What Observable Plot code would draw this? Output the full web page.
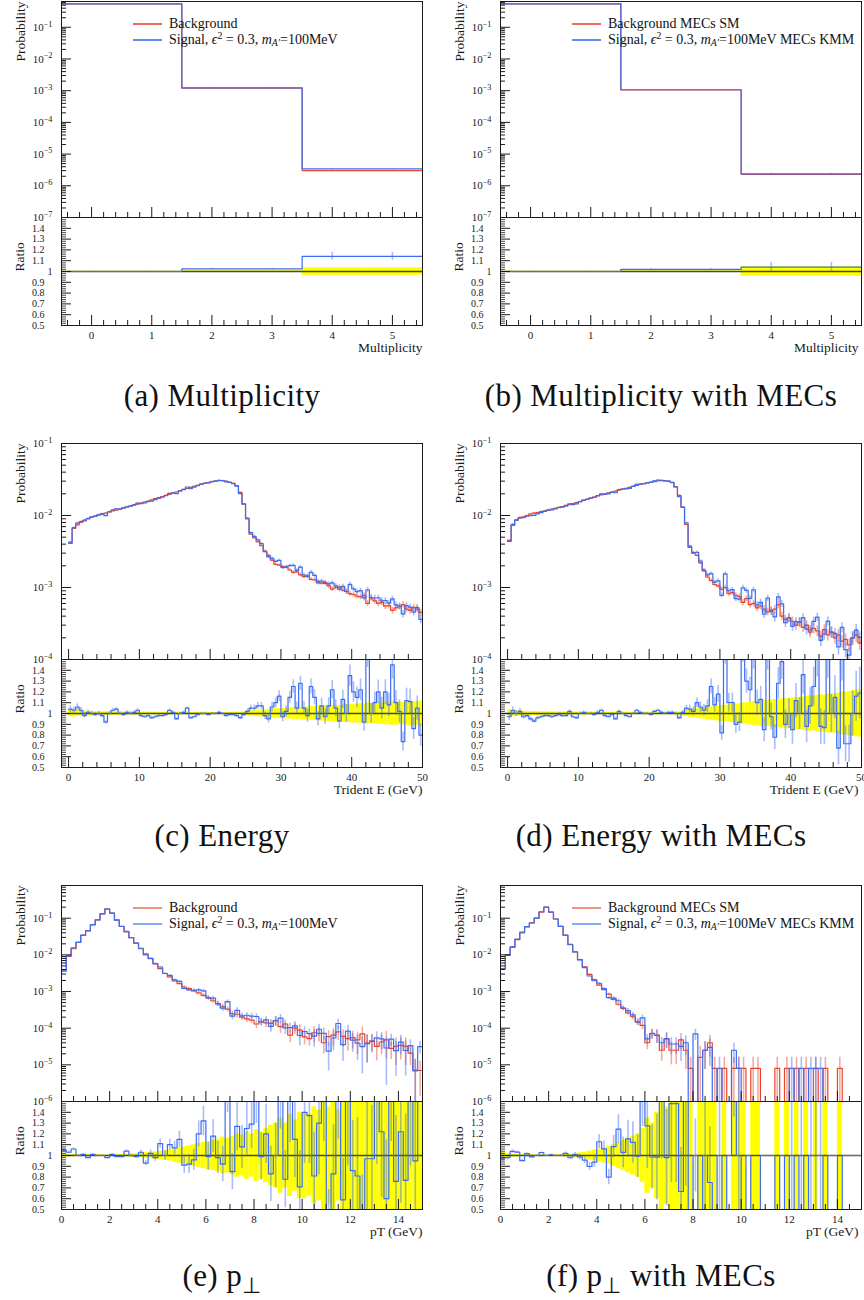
<!DOCTYPE html>
<html>
<head>
<meta charset="utf-8">
<script src="https://cdn.jsdelivr.net/npm/d3@7"></script>
<script src="https://cdn.jsdelivr.net/npm/@observablehq/plot@0.6"></script>
<style>
html, body { margin: 0; padding: 0; background: #fff; overflow: hidden; }
#root { position: relative; width: 864px; height: 1300px; overflow: hidden; background: #fff; }
#root svg.plotsvg { position: absolute; overflow: visible; }
.caption { position: absolute; transform: translate(-50%, -50%); font-family: "Liberation Serif", serif; font-size: 31px; letter-spacing: 0.4px; color: #111; white-space: nowrap; line-height: 1; }
.caption .sub { font-size: 0.7em; position: relative; top: 0.3em; }
.legend { position: absolute; font-family: "Liberation Serif", serif; font-size: 14px; color: #111; white-space: nowrap; }
.legend .row { display: flex; align-items: center; height: 16px; }
.legend svg.swatch { display: block; width: 29px; height: 4px; margin-right: 7px; flex: 0 0 29px; }
.legend .sup { font-size: 0.7em; position: relative; top: -0.5em; }
.legend .sub { font-size: 0.7em; position: relative; top: 0.3em; }
</style>
</head>
<body>
<div id="root"></div>
<script>
// ================= DATA =================
// Multiplicity (unit bins from -0.5 to 5.5)
const multEdges = [-0.5, 0.5, 1.5, 2.5, 3.5, 4.5, 5.5];
const multBg     = [0.55, 0.55, 1.2e-3, 1.2e-3, 3.0e-6, 3.0e-6];
const multRatio  = [1.0, 1.0, 1.025, 1.025, 1.14, 1.14];
const multBand   = [0.002, 0.002, 0.006, 0.006, 0.035, 0.035];
const multMecBg    = [0.55, 0.55, 1.05e-3, 1.05e-3, 2.3e-6, 2.3e-6];
const multMecRatio = [1.0, 1.0, 1.02, 1.02, 1.04, 1.04];
const multMecBand  = [0.002, 0.002, 0.006, 0.006, 0.045, 0.045];

// Trident energy: 100 bins of 0.5 GeV
const energyBinWidth = 0.5, energyBinCount = 100;
const energyBg = [
 4.1e-3, 6.6e-3, 7.4e-3, 8.0e-3, 8.6e-3, 9.0e-3, 9.5e-3, 9.8e-3, 1.02e-2, 1.06e-2,
 1.08e-2, 1.12e-2, 1.16e-2, 1.19e-2, 1.23e-2, 1.28e-2, 1.31e-2, 1.35e-2, 1.39e-2, 1.44e-2,
 1.49e-2, 1.54e-2, 1.59e-2, 1.65e-2, 1.71e-2, 1.77e-2, 1.83e-2, 1.90e-2, 1.97e-2, 2.04e-2,
 2.12e-2, 2.20e-2, 2.28e-2, 2.37e-2, 2.46e-2, 2.55e-2, 2.63e-2, 2.72e-2, 2.80e-2, 2.87e-2,
 2.96e-2, 3.0e-2, 3.04e-2, 3.05e-2, 3.0e-2, 2.9e-2, 2.8e-2, 2.6e-2, 2.1e-2, 1.45e-2,
 9.0e-3, 5.5e-3, 4.9e-3, 4.3e-3, 3.8e-3, 3.2e-3, 2.8e-3, 2.4e-3, 2.1e-3, 2.05e-3,
 1.95e-3, 1.9e-3, 1.75e-3, 1.62e-3, 1.65e-3, 1.5e-3, 1.42e-3, 1.45e-3, 1.3e-3, 1.28e-3,
 1.22e-3, 1.15e-3, 1.18e-3, 1.05e-3, 9.5e-4, 1.0e-3, 1.02e-3, 9.2e-4, 8.8e-4, 8.2e-4,
 8.0e-4, 7.6e-4, 7.4e-4, 7.8e-4, 6.0e-4, 7.2e-4, 6.5e-4, 6.0e-4, 6.2e-4, 5.5e-4,
 5.6e-4, 4.8e-4, 5.2e-4, 5.4e-4, 5.8e-4, 5.0e-4, 4.8e-4, 5.3e-4, 5.0e-4, 4.5e-4];
const energyRatio = [
 1.04, 1.03, 1.06, 1.03, 0.98, 1.01, 1.0, 0.99, 1.0, 0.98,
 0.92, 1.0, 1.03, 1.04, 1.0, 0.99, 1.01, 1.0, 1.01, 1.03,
 0.98, 0.97, 0.98, 0.96, 0.97, 0.98, 0.98, 0.99, 1.03, 1.01,
 0.95, 1.0, 1.01, 1.05, 0.96, 0.97, 0.99, 1.0, 1.0, 0.99,
 1.0, 1.0, 1.01, 1.0, 0.98, 0.99, 0.99, 0.98, 0.96, 0.99,
 1.02, 1.05, 1.05, 1.07, 1.07, 0.98, 0.95, 1.06, 1.1, 1.16,
 0.97, 1.02, 1.15, 1.25, 1.05, 1.28, 1.05, 0.98, 1.25, 1.15,
 0.95, 1.07, 0.97, 1.07, 1.22, 1.05, 0.93, 1.13, 1.0, 1.35,
 1.2, 1.15, 1.22, 0.92, 1.55, 1.0, 1.1, 1.2, 1.05, 1.2,
 1.08, 1.45, 1.1, 1.02, 0.74, 1.12, 1.11, 0.86, 1.05, 0.8];
const energyBand = [
 0.03, 0.03, 0.028, 0.025, 0.022, 0.02, 0.02, 0.018, 0.018, 0.017,
 0.017, 0.016, 0.016, 0.016, 0.015, 0.015, 0.015, 0.015, 0.014, 0.014,
 0.014, 0.014, 0.013, 0.013, 0.013, 0.013, 0.012, 0.012, 0.012, 0.012,
 0.012, 0.012, 0.011, 0.011, 0.011, 0.011, 0.011, 0.011, 0.011, 0.01,
 0.01, 0.01, 0.01, 0.01, 0.01, 0.011, 0.011, 0.012, 0.013, 0.016,
 0.02, 0.026, 0.028, 0.03, 0.032, 0.035, 0.038, 0.042, 0.045, 0.046,
 0.048, 0.05, 0.052, 0.055, 0.055, 0.058, 0.06, 0.06, 0.063, 0.065,
 0.067, 0.07, 0.07, 0.073, 0.076, 0.075, 0.075, 0.08, 0.082, 0.085,
 0.087, 0.09, 0.09, 0.088, 0.1, 0.092, 0.095, 0.1, 0.098, 0.104,
 0.103, 0.11, 0.108, 0.105, 0.102, 0.108, 0.112, 0.108, 0.11, 0.115];

const energyMecBg = [
 4.5e-3, 7.3e-3, 8.6e-3, 9.2e-3, 9.6e-3, 1.0e-2, 1.05e-2, 1.08e-2, 1.1e-2, 1.13e-2,
 1.16e-2, 1.2e-2, 1.23e-2, 1.26e-2, 1.3e-2, 1.33e-2, 1.38e-2, 1.42e-2, 1.46e-2, 1.51e-2,
 1.56e-2, 1.62e-2, 1.68e-2, 1.74e-2, 1.8e-2, 1.87e-2, 1.94e-2, 2.0e-2, 2.06e-2, 2.12e-2,
 2.18e-2, 2.25e-2, 2.32e-2, 2.39e-2, 2.46e-2, 2.54e-2, 2.62e-2, 2.7e-2, 2.77e-2, 2.84e-2,
 2.9e-2, 2.96e-2, 3.02e-2, 3.05e-2, 3.03e-2, 2.98e-2, 2.85e-2, 2.5e-2, 1.9e-2, 1.3e-2,
 7.5e-3, 3.6e-3, 3.0e-3, 2.8e-3, 2.2e-3, 1.7e-3, 1.4e-3, 1.25e-3, 1.1e-3, 1.05e-3,
 9.5e-4, 1.0e-3, 8.2e-4, 8.5e-4, 7.8e-4, 7.5e-4, 6.2e-4, 7.0e-4, 5.8e-4, 6.0e-4,
 5.2e-4, 5.5e-4, 5.0e-4, 4.6e-4, 4.8e-4, 5.0e-4, 5.8e-4, 4.0e-4, 3.6e-4, 3.8e-4,
 3.4e-4, 3.0e-4, 3.3e-4, 2.8e-4, 3.0e-4, 2.4e-4, 2.7e-4, 2.5e-4, 2.1e-4, 2.6e-4,
 2.2e-4, 2.4e-4, 2.0e-4, 2.2e-4, 1.8e-4, 1.9e-4, 1.6e-4, 2.0e-4, 2.2e-4, 1.7e-4];
const energyMecRatio = [
 0.97, 1.03, 1.0, 1.02, 0.97, 0.98, 0.95, 0.93, 0.96, 0.97,
 0.98, 0.98, 0.97, 0.98, 0.99, 0.98, 0.98, 1.02, 0.97, 0.96,
 1.0, 1.01, 1.0, 1.0, 0.99, 1.01, 1.03, 0.98, 0.97, 0.99,
 0.95, 1.02, 1.0, 0.98, 0.97, 1.0, 1.03, 1.01, 1.0, 1.0,
 0.99, 1.02, 1.03, 1.01, 1.0, 1.01, 1.01, 1.0, 0.96, 1.01,
 1.05, 1.04, 1.02, 1.1, 1.06, 1.03, 1.07, 1.25, 1.08, 1.18,
 0.82, 1.55, 1.1, 1.1, 0.9, 0.92, 1.6, 1.3, 1.22, 1.55,
 1.1, 1.13, 0.85, 1.55, 0.97, 0.78, 1.28, 1.48, 0.9, 1.0,
 0.85, 1.12, 1.0, 1.36, 0.88, 1.07, 1.25, 1.55, 0.88, 0.87,
 1.55, 1.0, 1.15, 0.68, 1.55, 0.72, 0.72, 1.0, 1.16, 1.19];
const energyMecBand = [
 0.035, 0.03, 0.028, 0.025, 0.022, 0.02, 0.02, 0.018, 0.018, 0.017,
 0.017, 0.016, 0.016, 0.016, 0.015, 0.015, 0.015, 0.015, 0.014, 0.014,
 0.014, 0.014, 0.013, 0.013, 0.013, 0.013, 0.012, 0.012, 0.012, 0.012,
 0.012, 0.012, 0.011, 0.011, 0.011, 0.011, 0.011, 0.011, 0.011, 0.011,
 0.011, 0.011, 0.011, 0.011, 0.011, 0.012, 0.012, 0.013, 0.015, 0.02,
 0.026, 0.035, 0.04, 0.042, 0.048, 0.052, 0.058, 0.062, 0.065, 0.07,
 0.075, 0.075, 0.082, 0.085, 0.088, 0.09, 0.1, 0.098, 0.105, 0.11,
 0.112, 0.115, 0.12, 0.12, 0.125, 0.13, 0.128, 0.135, 0.14, 0.14,
 0.145, 0.15, 0.148, 0.155, 0.16, 0.165, 0.16, 0.17, 0.175, 0.17,
 0.18, 0.178, 0.185, 0.19, 0.2, 0.195, 0.205, 0.21, 0.215, 0.22];

// Transverse momentum: 75 bins of 0.2 GeV
const ptBinWidth = 0.2, ptBinCount = 75;
const ptBg = [
 3.6e-3, 9.1e-3, 1.47e-2, 2.2e-2, 3.4e-2, 4.6e-2, 6.6e-2, 9.0e-2, 0.132, 0.18,
 0.137, 9.0e-2, 6.0e-2, 4.2e-2, 2.94e-2, 2.1e-2, 1.47e-2, 1.07e-2, 7.9e-3, 5.8e-3,
 4.2e-3, 3.1e-3, 2.5e-3, 1.95e-3, 1.65e-3, 1.33e-3, 1.2e-3, 1.08e-3, 9.2e-4, 7.9e-4,
 6.8e-4, 5.6e-4, 4.7e-4, 3.8e-4, 3.3e-4, 2.5e-4, 2.4e-4, 2.0e-4, 1.8e-4, 1.66e-4,
 1.3e-4, 1.5e-4, 1.4e-4, 1.35e-4, 1.6e-4, 1.1e-4, 1.3e-4, 6.5e-5, 1.0e-4, 8.9e-5,
 5.8e-5, 5.2e-5, 7.5e-5, 7.2e-5, 4.0e-5, 5.9e-5, 6.5e-5, 7.9e-5, 6.0e-5, 5.2e-5,
 5.5e-5, 4.8e-5, 7.0e-5, 3.9e-5, 4.5e-5, 3.2e-5, 4.2e-5, 4.8e-5, 2.8e-5, 3.2e-5,
 3.4e-5, 3.2e-5, 2.1e-5, 7.2e-6, 7.0e-6];
const ptRatio = [
 1.05, 1.03, 1.06, 1.0, 1.01, 0.98, 1.01, 1.0, 1.0, 0.98,
 1.01, 0.99, 0.99, 1.04, 1.0, 0.99, 1.03, 0.93, 1.02, 0.98,
 1.11, 1.0, 1.1, 1.07, 1.15, 0.91, 0.92, 0.96, 1.2, 1.32,
 0.99, 1.18, 0.98, 0.92, 1.6, 0.85, 1.27, 1.08, 1.25, 1.29,
 1.6, 0.99, 1.2, 0.83, 1.0, 1.7, 0.78, 1.6, 1.15, 0.71,
 1.4, 1.37, 0.81, 1.3, 1.8, 0.4, 0.83, 1.7, 0.59, 1.6,
 0.86, 0.81, 0.45, 0.97, 0.97, 1.7, 1.22, 0.6, 1.8, 0.76,
 1.22, 0.77, 1.6, 0.95, 4.5];
const ptBand = [
 0.015, 0.012, 0.01, 0.01, 0.008, 0.008, 0.007, 0.007, 0.006, 0.006,
 0.007, 0.008, 0.01, 0.012, 0.014, 0.017, 0.02, 0.025, 0.03, 0.035,
 0.04, 0.045, 0.05, 0.06, 0.07, 0.08, 0.09, 0.1, 0.11, 0.12,
 0.13, 0.14, 0.15, 0.17, 0.16, 0.18, 0.2, 0.19, 0.22, 0.2,
 0.24, 0.22, 0.25, 0.28, 0.3, 0.35, 0.3, 0.38, 0.33, 0.4,
 0.4, 0.38, 0.45, 0.42, 0.5, 0.45, 0.5, 0.42, 0.5, 0.55,
 0.5, 0.6, 0.55, 0.7, 0.5, 0.6, 0.55, 0.7, 0.5, 0.7,
 0.6, 0.7, 0.55, 1.0, 0.8];

const ptMecBg = [
 4.2e-3, 1.0e-2, 1.6e-2, 2.6e-2, 4.2e-2, 5.8e-2, 7.5e-2, 0.1, 0.146, 0.2,
 0.146, 9.5e-2, 6.0e-2, 3.4e-2, 1.93e-2, 1.2e-2, 7.4e-3, 4.7e-3, 2.95e-3, 2.1e-3,
 1.49e-3, 1.13e-3, 8.5e-4, 6.1e-4, 4.5e-4, 3.45e-4, 2.6e-4, 2.05e-4, 1.49e-4, 1.2e-4,
 4.0e-5, 7.2e-5, 6.5e-5, 2.5e-5, 5.2e-5, 2.5e-5, 2.5e-5, 4.8e-5, 2.5e-5, 8e-6,
 0, 1.6e-5, 2.5e-5, 4.0e-5, 8e-6, 0, 8e-6, 0, 8e-6, 8e-6,
 8e-6, 0, 8e-6, 8e-6, 0, 0, 0, 8e-6, 0, 8e-6,
 0, 8e-6, 0, 8e-6, 0, 8e-6, 0, 8e-6, 0, 0,
 8e-6, 0, 0, 0, 0];
const ptMecSig = [
 4.1e-3, 9.8e-3, 1.66e-2, 2.68e-2, 4.0e-2, 5.9e-2, 7.4e-2, 0.1, 0.15, 0.2,
 0.147, 9.5e-2, 6.0e-2, 3.47e-2, 1.89e-2, 1.21e-2, 7.3e-3, 4.5e-3, 2.65e-3, 1.97e-3,
 1.68e-3, 1.2e-3, 6.8e-4, 6.6e-4, 5.6e-4, 3.55e-4, 3.0e-4, 2.3e-4, 1.48e-4, 1.9e-4,
 5.1e-5, 7.1e-5, 6.4e-5, 4.0e-5, 5.1e-5, 3.7e-5, 3.7e-5, 3.2e-5, 4.0e-5, 0,
 7e-5, 0, 2.5e-5, 3.0e-5, 0, 8e-6, 0, 0, 2.5e-5, 8e-6,
 0, 0, 0, 0, 0, 0, 0, 0, 0, 0,
 8e-6, 0, 8e-6, 0, 8e-6, 8e-6, 8e-6, 0, 0, 0,
 0, 0, 0, 0, 0];
const ptMecBand = [
 0.03, 0.02, 0.015, 0.012, 0.01, 0.008, 0.007, 0.006, 0.005, 0.005,
 0.006, 0.007, 0.009, 0.012, 0.015, 0.02, 0.025, 0.03, 0.04, 0.05,
 0.06, 0.07, 0.08, 0.1, 0.12, 0.14, 0.16, 0.18, 0.2, 0.25,
 0.35, 0.3, 0.4, 0.5, 0.45, 0.6, 0.6, 0.5, 0.7, 1,
 0, 1, 0.7, 0.6, 1, 0, 1, 0, 1, 1,
 1, 0, 1, 1, 0, 0, 0, 1, 0, 1,
 0, 1, 0, 1, 0, 1, 0, 1, 0, 0,
 1, 0, 0, 0, 0];
const ptMecOneEvent = 8e-6; // weight of a single event

// Tick labels
const multTicks = [0, 1, 2, 3, 4, 5];
const energyTicks = [0, 10, 20, 30, 40, 50];
const ptTicks = [0, 2, 4, 6, 8, 10, 12, 14];
const ratioTicks = [0.5, 0.6, 0.7, 0.8, 0.9, 1, 1.1, 1.2, 1.3, 1.4];

const legendBg = "Background", legendBgMec = "Background MECs SM";
const legendSig = 'Signal, <i>ϵ</i><span class="sup">2</span> = 0.3, <i>m</i><span class="sub"><i>A′</i></span>=100MeV';
const legendSigMec = legendSig + " MECs KMM";

// ================= STYLE / LAYOUT =================
const RED = "#e8452c", BLUE = "#3d6cf2", YELLOW = "#ffff00", INK = "#1a1a1a";
const FONT = "'Liberation Serif', 'Times New Roman', serif";
const COL_LEFT = [0, 439];
const MAIN_TOP = [1, 443, 885];
const MAIN_H = 216, RATIO_H = 108;
const CAPTION_X = [222, 661], CAPTION_Y = [395, 835, 1275];
const LEGEND_X = [133, 572];
const XLABEL_DX = [0, -3];

const edgesOf = (w, n) => d3.range(n + 1).map(i => +(i * w).toFixed(4));
const times = (a, b) => a.map((v, i) => v * b[i]);

function makeBins(edges, bg, sig, band, oneEvent) {
  return bg.map((b, i) => {
    const s = sig[i];
    const ratio = b > 0 ? s / b : 1;
    const sigRel = s > 0 ? (b > 0 ? band[i] * Math.sqrt(b / s) : Math.sqrt(oneEvent / s)) : 0;
    return {x0: edges[i], x1: edges[i + 1], xc: (edges[i] + edges[i + 1]) / 2,
      bg: b, sig: s, band: band[i], bgErr: b * band[i], sigErr: s * sigRel,
      ratio, ratioErr: ratio * sigRel};
  });
}

const panels = [
  {col: 0, row: 0, caption: "(a) Multiplicity", bins: makeBins(multEdges, multBg, times(multBg, multRatio), multBand, 1),
   xDomain: [-0.5, 5.5], yDomain: [1e-7, 0.65], xTicks: multTicks, xMinorStep: 0.2, xLabel: "Multiplicity", legend: [legendBg, legendSig], legendOpacity: 1},
  {col: 1, row: 0, caption: "(b) Multiplicity with MECs", bins: makeBins(multEdges, multMecBg, times(multMecBg, multMecRatio), multMecBand, 1),
   xDomain: [-0.5, 5.5], yDomain: [1e-7, 0.65], xTicks: multTicks, xMinorStep: 0.2, xLabel: "Multiplicity", legend: [legendBgMec, legendSigMec], legendOpacity: 1},
  {col: 0, row: 1, caption: "(c) Energy", bins: makeBins(edgesOf(energyBinWidth, energyBinCount), energyBg, times(energyBg, energyRatio), energyBand, 1),
   xDomain: [-1, 50], yDomain: [1e-4, 1e-1], xTicks: energyTicks, xMinorStep: 2, xLabel: "Trident E (GeV)"},
  {col: 1, row: 1, caption: "(d) Energy with MECs", bins: makeBins(edgesOf(energyBinWidth, energyBinCount), energyMecBg, times(energyMecBg, energyMecRatio), energyMecBand, 1),
   xDomain: [-1, 50], yDomain: [1e-4, 1e-1], xTicks: energyTicks, xMinorStep: 2, xLabel: "Trident E (GeV)"},
  {col: 0, row: 2, caption: '(e) p<span class="sub">⊥</span>', bins: makeBins(edgesOf(ptBinWidth, ptBinCount), ptBg, times(ptBg, ptRatio), ptBand, 1),
   xDomain: [0, 15], yDomain: [1e-6, 0.78], xTicks: ptTicks, xMinorStep: 0.5, xLabel: "pT (GeV)", legend: [legendBg, legendSig], legendOpacity: 0.75},
  {col: 1, row: 2, caption: '(f) p<span class="sub">⊥</span> with MECs', bins: makeBins(edgesOf(ptBinWidth, ptBinCount), ptMecBg, ptMecSig, ptMecBand, ptMecOneEvent),
   xDomain: [0, 15], yDomain: [1e-6, 0.78], xTicks: ptTicks, xMinorStep: 0.5, xLabel: "pT (GeV)", legend: [legendBgMec, legendSigMec], legendOpacity: 0.75}
];

// ================= HELPERS =================
function minorTicks([d0, d1], step, majors) {
  const out = [];
  for (let k = Math.ceil(d0 / step - 1e-9); k * step <= d1 + 1e-9; k++) {
    const v = +(k * step).toFixed(6);
    if (v > d0 && v < d1 && !majors.some(m => Math.abs(m - v) < 1e-6)) out.push(v);
  }
  return out;
}
function logTicks([lo, hi]) {
  const major = [], minor = [];
  for (let e = Math.floor(Math.log10(lo)); e <= Math.ceil(Math.log10(hi)); e++) {
    const p = Math.pow(10, e);
    if (p >= lo * 0.999 && p <= hi * 1.001) major.push(p);
    for (let m = 2; m < 10; m++) { const v = m * p; if (v > lo && v < hi) minor.push(v); }
  }
  return {major, minor};
}
function stepData(bins, key, f) {
  const pts = bins.map(b => ({x: b.x0, y: f(b[key])}));
  const last = bins[bins.length - 1];
  pts.push({x: last.x1, y: f(last[key])});
  return pts;
}
const lf = v => (v > 0 ? v : 1e-12);
const styleObj = {background: "transparent", overflow: "visible", fontFamily: FONT, fontSize: "11px", color: INK};

function mainPlot(p) {
  const bins = p.bins;
  const yt = logTicks(p.yDomain);
  return Plot.plot({
    width: 430, height: MAIN_H + 20,
    marginTop: 10, marginBottom: 10, marginLeft: 61, marginRight: 8,
    x: {domain: p.xDomain},
    y: {type: "log", domain: p.yDomain},
    style: styleObj,
    marks: [
      Plot.ruleX(bins.filter(b => b.bgErr > 0), {x: "xc", y1: b => lf(b.bg - b.bgErr), y2: b => b.bg + b.bgErr, stroke: RED, strokeOpacity: 0.45, strokeWidth: 1.6, clip: true}),
      Plot.ruleX(bins.filter(b => b.sigErr > 0), {x: "xc", y1: b => lf(b.sig - b.sigErr), y2: b => b.sig + b.sigErr, stroke: BLUE, strokeOpacity: 0.45, strokeWidth: 1.6, clip: true}),
      Plot.line(stepData(bins, "bg", lf), {x: "x", y: "y", curve: "step-after", stroke: RED, strokeWidth: 1.2, clip: true}),
      Plot.line(stepData(bins, "sig", lf), {x: "x", y: "y", curve: "step-after", stroke: BLUE, strokeWidth: 1.2, clip: true}),
      Plot.axisX(minorTicks(p.xDomain, p.xMinorStep, p.xTicks), {anchor: "bottom", tickSize: -5, fill: "none", label: null, stroke: INK}),
      Plot.axisX(p.xTicks, {anchor: "bottom", tickSize: -10, fill: "none", label: null, stroke: INK}),
      Plot.axisY(yt.minor, {anchor: "left", tickSize: -5, fill: "none", label: null, stroke: INK}),
      Plot.axisY(yt.major, {anchor: "left", tickSize: -10, fill: "none", label: null, stroke: INK}),
      Plot.axisY(yt.major, {anchor: "left", tickSize: 0, tickPadding: 9, tickFormat: d => "10^" + Math.round(Math.log10(d)), label: null, fontSize: 11, fill: INK}),
      Plot.frame({stroke: INK}),
      Plot.text(["Probability"], {frameAnchor: "top-left", text: d => d, rotate: -90, textAnchor: "end", dx: -46, fontSize: 13.5, fill: INK})
    ]
  });
}

function ratioPlot(p) {
  const bins = p.bins;
  return Plot.plot({
    width: 430, height: RATIO_H + 55,
    marginTop: 10, marginBottom: 45, marginLeft: 61, marginRight: 8,
    x: {domain: p.xDomain},
    y: {domain: [0.5, 1.5]},
    style: styleObj,
    marks: [
      Plot.rect(bins.filter(b => b.band > 0), {x1: "x0", x2: "x1", y1: b => 1 - b.band, y2: b => 1 + b.band, fill: YELLOW, clip: true}),
      Plot.ruleY([1], {stroke: INK, strokeOpacity: 0.8, strokeWidth: 1.3}),
      Plot.ruleX(bins.filter(b => b.ratioErr > 0), {x: "xc", y1: b => b.ratio - b.ratioErr, y2: b => b.ratio + b.ratioErr, stroke: BLUE, strokeOpacity: 0.45, strokeWidth: 1.6, clip: true}),
      Plot.line(stepData(bins, "ratio", v => v), {x: "x", y: "y", curve: "step-after", stroke: BLUE, strokeWidth: 1.2, clip: true}),
      Plot.axisX(minorTicks(p.xDomain, p.xMinorStep, p.xTicks), {anchor: "bottom", tickSize: -5, fill: "none", label: null, stroke: INK}),
      Plot.axisX(p.xTicks, {anchor: "bottom", tickSize: -10, fill: "none", label: null, stroke: INK}),
      Plot.axisY(minorTicks([0.5, 1.5], 0.02, ratioTicks), {anchor: "left", tickSize: -5, fill: "none", label: null, stroke: INK, strokeOpacity: 0.8}),
      Plot.axisY(ratioTicks, {anchor: "left", tickSize: -10, fill: "none", label: null, stroke: INK}),
      Plot.axisY(ratioTicks.filter(d => d !== 1), {anchor: "left", tickSize: 0, tickPadding: 17, tickFormat: d => d.toFixed(1), label: null, fontSize: 10, fill: INK}),
      Plot.axisY([1], {anchor: "left", tickSize: 0, tickPadding: 9, tickFormat: () => "1", label: null, fontSize: 10, fill: INK}),
      Plot.axisX(p.xTicks, {anchor: "bottom", tickSize: 0, tickPadding: 6, tickFormat: d => String(d), label: null, fontSize: 11, fill: INK}),
      Plot.frame({stroke: INK}),
      Plot.text(["Ratio"], {frameAnchor: "left", text: d => d, rotate: -90, dx: -42, fontSize: 13.5, fill: INK}),
      Plot.text([p.xLabel], {frameAnchor: "bottom-right", text: d => d, textAnchor: "end", dx: XLABEL_DX[p.col], dy: 26, fontSize: 13.5, fill: INK})
    ]
  });
}

function supLabels(svg) {
  svg.querySelectorAll("text").forEach(t => {
    const m = /^10\^(-?\d+)$/.exec(t.textContent);
    if (m) {
      t.textContent = "10";
      const ts = document.createElementNS("http://www.w3.org/2000/svg", "tspan");
      ts.setAttribute("dy", "-0.5em");
      ts.setAttribute("font-size", "0.75em");
      ts.textContent = m[1].replace("-", "\u2212");
      t.appendChild(ts);
    }
  });
}

// ================= RENDER =================
const root = document.getElementById("root");
const SVGNS = "http://www.w3.org/2000/svg";
for (const p of panels) {
  const left = COL_LEFT[p.col];
  const mainTop = MAIN_TOP[p.row];
  const r = ratioPlot(p);
  r.classList.add("plotsvg");
  r.style.left = left + "px";
  r.style.top = (mainTop + MAIN_H - 10) + "px";
  root.appendChild(r);
  const m = mainPlot(p);
  m.classList.add("plotsvg");
  supLabels(m);
  m.style.left = left + "px";
  m.style.top = (mainTop - 10) + "px";
  root.appendChild(m);

  const cap = document.createElement("div");
  cap.className = "caption";
  cap.innerHTML = p.caption;
  cap.style.left = CAPTION_X[p.col] + "px";
  cap.style.top = CAPTION_Y[p.row] + "px";
  root.appendChild(cap);

  if (p.legend) {
    const lg = document.createElement("div");
    lg.className = "legend";
    lg.style.left = LEGEND_X[p.col] + "px";
    lg.style.top = (mainTop + 14.5) + "px";
    [RED, BLUE].forEach((c, i) => {
      const row = document.createElement("div");
      row.className = "row";
      const sw = document.createElementNS(SVGNS, "svg");
      sw.setAttribute("class", "swatch");
      sw.setAttribute("width", "29");
      sw.setAttribute("height", "4");
      const ln = document.createElementNS(SVGNS, "line");
      ln.setAttribute("x1", "0"); ln.setAttribute("x2", "29");
      ln.setAttribute("y1", "2"); ln.setAttribute("y2", "2");
      ln.setAttribute("stroke", c);
      ln.setAttribute("stroke-width", "1.6");
      ln.setAttribute("stroke-opacity", String(p.legendOpacity));
      sw.appendChild(ln);
      const tx = document.createElement("div");
      tx.innerHTML = p.legend[i];
      row.appendChild(sw);
      row.appendChild(tx);
      lg.appendChild(row);
    });
    root.appendChild(lg);
  }
}
</script>
</body>
</html>
